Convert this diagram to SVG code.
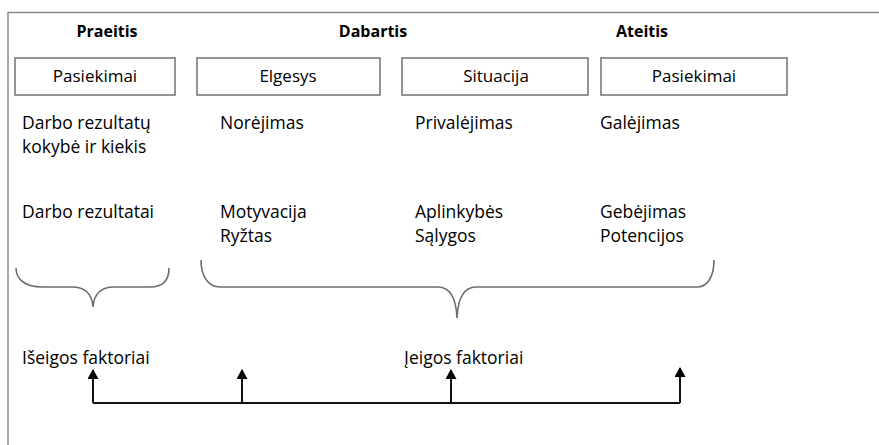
<svg xmlns="http://www.w3.org/2000/svg" width="879" height="445" viewBox="0 0 879 445">
<style>
.frame{fill:none;stroke:#8a8a8a;stroke-width:1.5}
.box{fill:#fff;stroke:#7a7a7a;stroke-width:1.6}
.head{font-family:"Open Sans","Noto Sans",sans-serif;font-weight:bold;font-size:16px;fill:#000;text-anchor:middle}
.lbl{font-family:"Open Sans","Noto Sans",sans-serif;font-size:17px;fill:#000;text-anchor:middle}
.txt{font-family:"Open Sans","Noto Sans",sans-serif;font-size:17.5px;fill:#000}
.brace{fill:none;stroke:#6e6e6e;stroke-width:1.6}
.conn{fill:none;stroke:#111;stroke-width:2}
</style>
<defs>
<marker id="arr" markerWidth="10" markerHeight="11" refX="9" refY="5.5" orient="auto" markerUnits="userSpaceOnUse" viewBox="0 0 10 11">
<path d="M0,0 L10,5.5 L0,11 Z" fill="#000"/>
</marker>
</defs>
<path class="frame" d="M8,445 V12.5 H879"/>
<g id="headings">
<text class="head" x="107" y="37">Praeitis</text>
<text class="head" x="373" y="37">Dabartis</text>
<text class="head" x="642" y="37">Ateitis</text>
</g>
<g id="node-pasiekimai-1"><rect class="box" x="15" y="58" width="160" height="37"/><text class="lbl" x="95" y="82">Pasiekimai</text></g>
<g id="node-elgesys"><rect class="box" x="197" y="58" width="183" height="37"/><text class="lbl" x="288" y="82">Elgesys</text></g>
<g id="node-situacija"><rect class="box" x="402" y="58" width="186" height="37"/><text class="lbl" x="496" y="82">Situacija</text></g>
<g id="node-pasiekimai-2"><rect class="box" x="601" y="58" width="186" height="37"/><text class="lbl" x="694" y="82">Pasiekimai</text></g>
<g id="texts">
<text class="txt" x="22" y="129">Darbo rezultatų</text>
<text class="txt" x="22" y="153">kokybė ir kiekis</text>
<text class="txt" x="220" y="129">Norėjimas</text>
<text class="txt" x="415" y="129">Privalėjimas</text>
<text class="txt" x="600" y="129">Galėjimas</text>
<text class="txt" x="22" y="218">Darbo rezultatai</text>
<text class="txt" x="220" y="218">Motyvacija</text>
<text class="txt" x="220" y="242">Ryžtas</text>
<text class="txt" x="415" y="218">Aplinkybės</text>
<text class="txt" x="415" y="242">Sąlygos</text>
<text class="txt" x="600" y="218">Gebėjimas</text>
<text class="txt" x="600" y="242">Potencijos</text>
<text class="txt" x="22" y="364">Išeigos faktoriai</text>
<text class="txt" x="404" y="364">Įeigos faktoriai</text>
</g>
<g id="braces">
<path class="brace" d="M16,268 C16,280 26,287 42,287 H72 C84,287 92,293 93,307 C94,293 102,287 114,287 H150 C162,287 169,281 169,268"/>
<path class="brace" d="M201,260 C201,276 208,287 220,287 H438 C449,287 456,297 457,318 C458,297 465,287 476,287 H697 C708,287 714,276 714,260"/>
</g>
<g id="connectors">
<path class="conn" d="M93,403 H680"/>
<path class="conn" d="M93,403 V370" marker-end="url(#arr)"/>
<path class="conn" d="M242,403 V370" marker-end="url(#arr)"/>
<path class="conn" d="M451,403 V370" marker-end="url(#arr)"/>
<path class="conn" d="M680,403 V368" marker-end="url(#arr)"/>
</g>
</svg>
